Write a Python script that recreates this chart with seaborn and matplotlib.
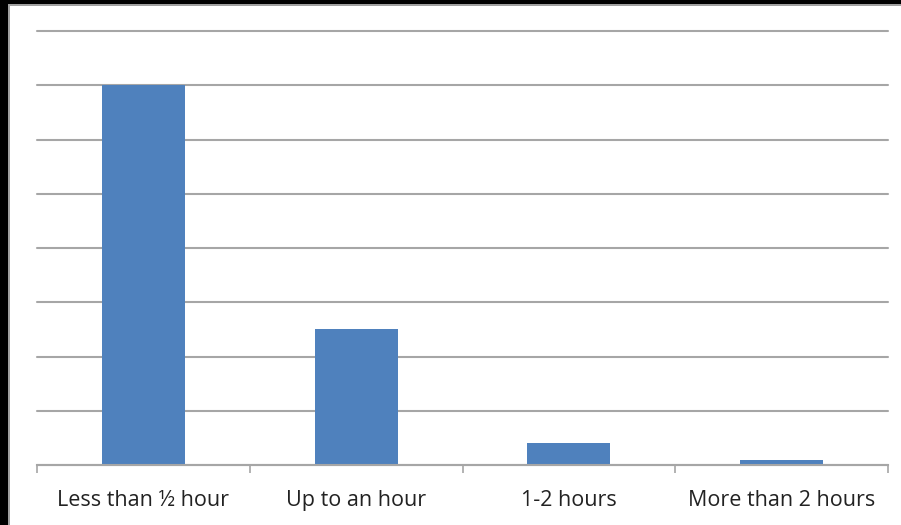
import matplotlib
matplotlib.use("Agg")
import matplotlib.pyplot as plt
import seaborn as sns
import pandas as pd
from matplotlib.patches import Rectangle
from matplotlib.ticker import FixedLocator

categories = ["Less than ½ hour", "Up to an hour", "1-2 hours", "More than 2 hours"]
values = [7.0, 2.5, 0.4, 0.1]

df = pd.DataFrame({"cat": categories, "val": values})

sns.set_theme(style="white")
plt.rcParams['font.family'] = ['Open Sans', 'DejaVu Sans']

W, H = 901, 525
fig = plt.figure(figsize=(W / 100, H / 100), dpi=100)
fig.patch.set_facecolor("white")
ax = fig.add_axes([37 / W, (H - 465) / H, (888 - 37) / W, (465 - 31) / H])

sns.barplot(data=df, x="cat", y="val", color="#4f81bd", saturation=1,
            width=0.39, ax=ax, zorder=3, linewidth=0, edgecolor="none")

ax.set_ylim(0, 8)
ax.set_xlim(-0.5, 3.5)
ax.set_yticks(range(0, 9))
ax.set_yticklabels([])
ax.tick_params(axis="y", length=0)
ax.yaxis.grid(True, color="#a6a6a6", linewidth=1.5, zorder=0)
for gl in ax.yaxis.get_gridlines():
    gl.set_clip_on(False)
ax.set_axisbelow(True)
for s in ["top", "right", "left"]:
    ax.spines[s].set_visible(False)
ax.spines["bottom"].set_color("#a6a6a6")
ax.spines["bottom"].set_linewidth(1.5)
ax.spines["bottom"].set_zorder(4)
ax.set_xlabel("")
ax.set_ylabel("")
ax.xaxis.set_minor_locator(FixedLocator([-0.5, 0.5, 1.5, 2.5, 3.5]))
ax.tick_params(axis="x", which="major", length=0, pad=18, labelsize=15.5, labelcolor="#222222")
ax.tick_params(axis="x", which="minor", bottom=True, length=6, width=1.2, color="#a6a6a6", direction="out")

# outer frame: black on top and left with grey inner line
fig.patches.append(Rectangle((0, (H - 4) / H), 1, 4 / H, transform=fig.transFigure,
                             facecolor="black", edgecolor="none", zorder=10))
fig.patches.append(Rectangle((0, (H - 6) / H), 1, 2 / H, transform=fig.transFigure,
                             facecolor="#a0a0a0", edgecolor="none", zorder=10))
fig.patches.append(Rectangle((0, 0), 8 / W, 1, transform=fig.transFigure,
                             facecolor="black", edgecolor="none", zorder=10))
fig.patches.append(Rectangle((8 / W, 0), 2 / W, (H - 4) / H, transform=fig.transFigure,
                             facecolor="#a0a0a0", edgecolor="none", zorder=10))

fig.savefig("out.png", dpi=100, facecolor="white")
